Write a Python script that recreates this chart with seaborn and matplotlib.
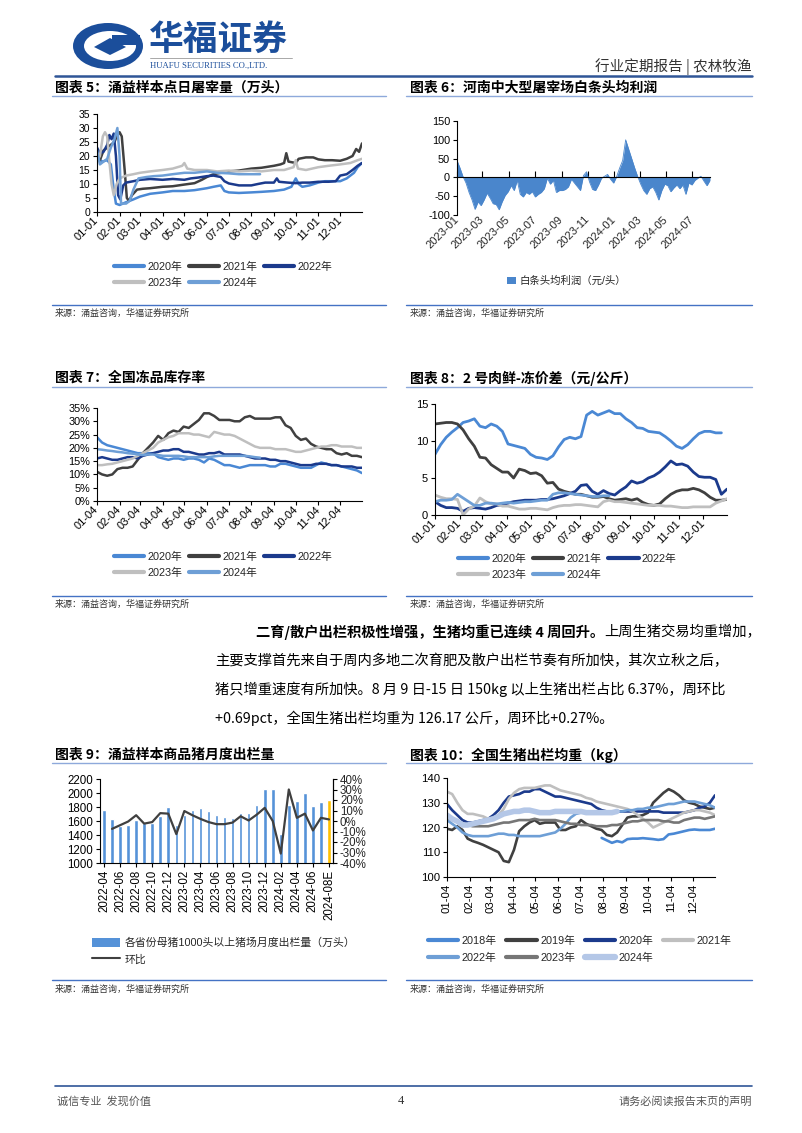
import numpy as np
import pandas as pd
import matplotlib
matplotlib.use("Agg")
import matplotlib.pyplot as plt
import seaborn as sns
from matplotlib.lines import Line2D
from matplotlib.patches import Patch, Ellipse, Polygon, Rectangle
from matplotlib.ticker import FuncFormatter

# ======================= DATA =======================
# Chart 5: daily slaughter volume (万头), sampled points (MM-DD, value)
slaughter_2020_dates = ["01-01","01-08","01-15","01-20","01-24","01-27","02-01","02-10","02-15","02-20",
                        "03-01","03-15","04-01","04-15","05-01","05-15","06-01","06-10","06-20","06-25",
                        "07-01","07-15","08-01","08-15","09-01","09-15","09-25","10-01","10-05","10-10",
                        "10-20","11-01","11-10","11-20","12-01","12-10","12-20","12-25","12-31"]
slaughter_2020 = [19.5,18,18.5,17,8,3,2.5,3.5,4,4.5, 5.5,6.5,7,7.5,7.5,7.8,8.5,9,9.5,7.5,
                  7,6.8,7,7.2,7.5,8,9,12,10,9, 9.5,10.5,11,11,11,12,14,16,17.5]
slaughter_2021_dates = ["01-01","01-05","01-10","01-15","01-20","01-25","01-28","02-01","02-04","02-08",
                        "02-11","02-14","02-18","02-25","03-05","03-15","04-01","04-15","05-01","05-15",
                        "05-25","06-01","06-10","06-20","07-01","07-15","08-01","08-15","09-01","09-10",
                        "09-15","09-18","09-21","10-01","10-05","10-15","10-25","11-01","11-10","11-20",
                        "12-01","12-10","12-18","12-23","12-27","12-31"]
slaughter_2021 = [20,18.5,22,23,24,25,27,28.5,27,15, 5,4,6,8,8.3,8.5,9,9.2,9.8,10.3,
                  11.5,12.5,13.5,14,14.5,14.8,15.5,15.8,16.5,17, 17.5,21,18,17.5,19,19.5,19.5,18.8,18.5,18.5,
                  18.3,19,20,22.5,21.5,24.5]
slaughter_2022_dates = ["01-01","01-05","01-10","01-15","01-18","01-21","01-24","01-27","01-30","02-02",
                        "02-06","02-10","02-20","03-01","03-15","04-01","04-15","05-01","05-10","05-20",
                        "06-01","06-10","06-20","06-25","07-01","07-15","08-01","08-10","08-20","09-01",
                        "09-05","09-08","09-20","10-01","10-10","10-20","11-01","11-15","11-25","12-01",
                        "12-10","12-18","12-25","12-31"]
slaughter_2022 = [23,21,21.5,24,27.5,26,28,20,6,4.5, 9.5,10.5,11,11.5,11.8,11.5,11.8,11.5,12,12.3,
                  12.8,13,12.5,11,10.2,9.5,9.5,10,10.5,10.5, 12,10.8,10.5,10.3,10.5,10.5,10.8,10.8,11,13,
                  13.5,15,16.5,17.5]
slaughter_2023_dates = ["01-01","01-05","01-09","01-12","01-15","01-18","01-21","01-24","01-28","02-01",
                        "02-10","02-20","03-01","03-15","04-01","04-15","04-28","05-01","05-05","05-15",
                        "06-01","06-15","07-01","07-15","08-01","08-15","09-01","09-15","09-28","10-01",
                        "10-04","10-15","11-01","11-15","12-01","12-15","12-25","12-31"]
slaughter_2023 = [18,20,27,28.5,27,18,10,6,10,12, 13,13.5,14,14.5,15,15.5,16.5,17.5,15.5,15,
                  15,14.5,14.8,14.5,14.8,14.5,15,15,16,18.5, 15.5,15,16,16.5,17,17.5,18.5,19]
slaughter_2024_dates = ["01-01","01-05","01-10","01-15","01-20","01-25","01-29","02-01","02-03","02-10",
                        "02-15","02-20","02-27","03-10","03-20","04-01","04-15","05-01","05-15","06-01",
                        "06-15","07-01","07-15","08-01","08-13"]
slaughter_2024 = [22,17,18,19,23,26,30,20,3,3, 4,8,12,12.5,12.8,13,13.5,14,14,14.5,
                  14,13.8,13.5,13.5,13.5]

# Chart 6: weekly profit per head (元/头), from 2023-01-01
profit_start = "2023-01-01"
profit = [45,25,2,-15,-40,-60,-85,-65,-75,-60, -42,-55,-70,-72,-86,-65,-48,-38,-22,-35,
          -8,-45,-52,-40,-45,-38,-52,-45,-40,-30, -2,-18,-8,-40,-35,-35,-32,-25,-5,-15,
          -25,-35,5,15,-12,-32,-35,-20,-2,3, 8,-5,-15,2,25,45,100,75,50,25,
          2,-18,-35,-45,-30,-25,-40,-60,-35,-18, -22,-38,-28,-20,-30,-20,-45,-15,-20,-8,
          -2,3,-10,-22,-8]
profit_ticks = ["2023-01","2023-03","2023-05","2023-07","2023-09","2023-11",
                "2024-01","2024-03","2024-05","2024-07"]

# Chart 7: frozen inventory rate (%), weekly from 01-04
inv_2020 = [24.0,22.0,21.0,20.5,20.0,19.5,19.0,18.5,18.0,18.0, 18.0,18.0,16.5,16.0,15.5,16.0,16.0,15.5,16.0,16.0,
            15.5,14.5,16.0,15.5,14.5,13.5,13.5,13.0,12.5,13.0, 13.5,13.5,13.5,13.5,13.0,13.0,14.0,14.0,13.5,13.0,
            12.5,12.5,12.5,13.5,14.5,14.0,13.5,13.5,13.0,12.5, 12.0,11.5,10.5]
inv_2021 = [11,10,9.5,10,12,12.5,12.5,13,15.5,18, 20,22,24.5,23,25.5,26.5,26,28,27.5,29,
            30.5,33,33,32,30.5,30.5,30.5,30,30,31.5, 32,31,31,31,31,31.5,31.5,28.5,27.5,24.5,
            23,23.5,21.5,20.5,20,19.5,19.5,18,17.5,18, 17,17,16.5]
inv_2022 = [16,16.5,16,15.5,15.5,16,16.5,16.5,16,17, 17.5,18,18.5,19,19,19.5,19.5,18.5,18.5,18,
            17.5,17.5,18,18,18.5,17.5,17.5,17.5,17.5,17, 16.5,16,16,16,15.5,15.5,15,15,14.5,14,
            13.5,13.5,13.5,14,14,14,13.5,13.5,13,13, 13,12.5,12.5]
inv_2023 = [13.5,13.5,13.8,14,14.5,15,15.5,16,17,18, 19,20,22,23,24,24.5,25.5,25.5,25.5,25,
            25,24.5,24,26,25.5,25,25,24.5,23.5,22.5, 21.5,20.5,20,20,20,19.5,19.5,19.5,19,18.5,
            18.5,19,19.5,20,20.5,20.5,21,21,20.5,20.5, 20.5,20,20]
inv_2024 = [19.5,19.3,19,18.8,18.5,18.3,18,17.8,17.5,17.3, 17.5,17.5,17.3,17,17,17,17,16.8,16.5,16.5,
            16.5,16.5,16.5,16.8,17,17,17,17,17,17, 16.8,16.5,16.3]

# Chart 8: fresh-frozen price spread (元/公斤), weekly from 01-01
spread_2020 = [8.2,9.5,10.5,11.2,11.8,12.5,12.7,13.0,12.0,11.8, 12.3,12.0,11.3,9.6,9.4,9.2,9.0,8.2,7.8,7.7,
               7.5,8.0,9.2,10.2,10.5,10.3,10.6,13.5,14.0,13.5, 13.8,14.1,13.7,13.7,13.0,12.5,11.8,11.7,11.3,11.2,
               11.1,10.6,10.0,9.3,9.0,9.5,10.3,11.0,11.3,11.3, 11.1,11.1]
spread_2021 = [12.3,12.4,12.5,12.5,12.3,11.5,10.3,9.3,7.8,7.7, 6.8,6.3,5.8,5.8,5.0,6.2,6.0,5.6,5.7,5.3,
               4.3,4.4,3.5,3.2,3.0,2.8,2.8,2.6,2.4,2.4, 2.5,2.2,2.0,2.1,2.2,2.0,2.2,1.7,1.4,1.3,
               1.5,2.2,2.8,3.2,3.4,3.4,3.6,3.4,3.0,2.4, 2.0,2.0,2.1]
spread_2022 = [1.8,1.3,1.0,1.0,0.9,0.5,0.9,1.0,0.9,0.8, 1.0,1.3,1.4,1.6,1.8,1.9,2.0,2.0,2.0,2.1,
               2.1,2.2,2.4,2.6,2.9,3.2,4.0,4.1,3.2,2.8, 3.3,2.9,2.7,3.3,3.8,4.6,4.3,4.5,5.0,5.3,
               5.8,6.5,7.3,6.8,6.9,6.6,5.8,5.2,5.1,5.1, 4.8,2.8,3.5]
spread_2023 = [2.7,2.4,2.2,2.2,2.1,0.0,0.8,1.2,2.3,1.8, 1.5,1.5,1.2,1.2,1.0,0.8,0.8,0.9,0.9,0.8,
               0.7,1.0,1.2,1.3,1.3,1.4,1.4,1.3,1.2,1.1, 1.8,2.0,1.8,1.8,1.7,1.6,1.5,1.4,1.3,1.3,
               1.3,1.2,1.2,1.1,1.0,1.0,1.1,1.1,1.1,1.1, 1.6,1.9,2.2]
spread_2024 = [1.8,2.0,2.0,2.1,2.8,2.3,1.8,1.3,1.3,1.6, 1.6,1.5,1.6,1.7,1.6,1.7,1.8,1.8,1.9,2.0,
               2.0,2.8,3.0,3.0,2.9,2.8,2.7,2.6,2.5,2.5, 2.6,2.6]

# Chart 9: monthly sales volume (万头) and MoM (%)
months9 = ["2022-04","2022-05","2022-06","2022-07","2022-08","2022-09","2022-10","2022-11","2022-12",
           "2023-01","2023-02","2023-03","2023-04","2023-05","2023-06","2023-07","2023-08","2023-09",
           "2023-10","2023-11","2023-12","2024-01","2024-02","2024-03","2024-04","2024-05","2024-06",
           "2024-07","2024-08E"]
volume9 = [1755,1630,1530,1540,1610,1570,1570,1670,1805,
           1550,1690,1760,1785,1745,1690,1660,1650,1715,
           1715,1830,2060,2055,1415,1835,1880,2000,1820,
           1870,1900]
mom9 = [-7.5,-4,-0.5,5.5,-2.5,-1,7.5,7,-12.5,9.5, 5.5,2,-1,-3,-3,-1.5,4.5,0.5,6,12.5,
        0,-31,30,3,7,-9,3,1.5]   # from 2022-05 on

# Chart 10: average slaughter weight (kg), weekly from 01-04
weight_2018 = [115.8,114.8,113.8,114.5,114.0,115.3,115.5,115.5,115.7,115.5, 115.3,115.0,115.3,117.2,117.5,118.0,
               118.5,119.0,119.2,119.0,119.0,119.0,119.5]   # starts in week 31 (08-04)
weight_2018_first_week = 30
weight_2019 = [119.5,119,120.5,119,115.5,114.5,113.8,113,112,111, 110,106.5,106,111,118.5,120.5,122,123,121.5,122,
               122,122,119,119,120,120.5,123,121.5,120.5,119.5, 119,117,116.5,118,121,124,124.5,124.5,125,126,
               130,132,134,135.5,134.5,133,131,130,129.5,128.5, 128,127.5,128]
weight_2020 = [129.5,127,125,123,122,122,122.5,123,123.5,125, 127,130,132.5,133,133.5,134.5,134.5,135.5,135.5,134.5,
               133.5,132.5,132.5,132,131.5,131,130.5,130,129.5,128, 127,126.5,126.5,126.5,126.5,126.5,126.5,126.5,126.5,126.5,
               126.5,126.5,126,126,126,126,126,126.5,127,128, 128.5,130,133]
weight_2021 = [134.5,133.5,130,127,125.5,125.5,125,124.5,123.5,124, 125,127.5,131.5,134,135.5,136,136,136,136.5,137,
               137,136,135,134.5,134,133.5,133,132,131.5,130.5, 130,129.5,129,128.5,128,127.5,126.5,125,123.5,122,
               120,121,122,123,124,125,126,126.5,127,127, 126.5,126,125]
weight_2022 = [123,121.5,120,118,117,116.5,116.5,116.5,116.5,117, 117.5,117.5,117,117,116.5,116.5,116.5,116.5,116.5,117,
               117.5,118,119.5,121.5,124,125.5,126,126,126,126, 126.5,126.5,126.5,126.5,126.5,127,127,127.5,127.5,128,
               128,128.5,129,129.5,129.5,130,130.5,130.5,130.5,130, 129.5,129,128]
weight_2023 = [124,123,122.5,121.5,121,120.5,120.5,120.5,120.5,121, 121.5,122,122,122.5,123,123,123,123.5,123,123,
               123,123,122.5,122,121.5,121.5,121,121,121,120.5, 120.5,120.5,121,121,121.5,122,122.5,122.5,123,123,
               123,123,122.5,122.5,122,122,123,123.5,124,124, 123.5,124,124.5]
weight_2024 = [125,123.5,122.5,121,121,121.5,122,122.5,123,123.5, 124.5,125.5,126,126.5,126.5,127,127,126.5,126,126,
               126,126.5,126.5,126.5,126.5,126.5,126.5,126,126,126, 126,126,126,126.5]

# ======================= STYLE =======================
sns.set_theme(style="ticks")
CJK = ['Noto Sans CJK SC', 'DejaVu Sans']
plt.rcParams['font.family'] = ['Liberation Sans', 'Noto Sans CJK SC', 'DejaVu Sans']
plt.rcParams['axes.unicode_minus'] = False

C_BLUE = "#4A88D4"
C_DARK = "#404040"
C_NAVY = "#1B3A8C"
C_LGRAY = "#BFBFBF"
C_LBLUE = "#6E9FD6"
C_GRAY = "#767676"
C_PALE = "#B4C7E7"
C_BAR = "#5592D8"
C_YEL = "#FFC000"
C_AREA = "#4A86CC"
LOGO = "#1B4E9B"

W, H = 802, 1133
fig = plt.figure(figsize=(W / 100, H / 100), dpi=100, facecolor='white')


def fx(x):
    return x / W


def fy(y):
    return 1 - y / H


def add_ax(x0, y0, x1, y1):
    return fig.add_axes([fx(x0), fy(y1), (x1 - x0) / W, (y1 - y0) / H])


def hline(x0, x1, y, color, lw):
    fig.add_artist(Line2D([fx(x0), fx(x1)], [fy(y), fy(y)], transform=fig.transFigure,
                          color=color, lw=lw))


def ftext(x, y, s, **kw):
    kw.setdefault('va', 'center')
    return fig.text(fx(x), fy(y), s, **kw)


def style_ax(ax, fs=7.5, xfs=None):
    ax.set_facecolor('white')
    for s in ['top', 'right']:
        ax.spines[s].set_visible(False)
    for s in ['left', 'bottom']:
        ax.spines[s].set_color('black')
        ax.spines[s].set_linewidth(0.8)
    ax.tick_params(labelsize=fs, length=3, width=0.8, color='black', pad=2, labelcolor='black')
    if xfs is not None:
        ax.tick_params(axis='x', labelsize=xfs)
    ax.set_xlabel('')
    ax.set_ylabel('')
    ax.grid(False)


def rowmajor(items, ncol):
    nrow = -(-len(items) // ncol)
    out = []
    for c in range(ncol):
        for r in range(nrow):
            i = r * ncol + c
            if i < len(items):
                out.append(items[i])
    return out


def year_legend(entries, x, y, ncol, fs=7.8, hl=2.8, cs=0.6, ls=0.5):
    entries = rowmajor(entries, ncol)
    handles = [Line2D([], [], color=c, lw=lw) for (lab, c, lw) in entries]
    labels = [e[0] for e in entries]
    fig.legend(handles, labels, loc='upper left', bbox_to_anchor=(fx(x), fy(y)), ncol=ncol,
               frameon=False, fontsize=fs, handlelength=hl, handletextpad=0.3, columnspacing=cs,
               labelspacing=ls, borderaxespad=0, borderpad=0)


def rot_labels(ax, angle):
    if angle == 45:
        plt.setp(ax.get_xticklabels(), rotation=45, ha='right', va='center', rotation_mode='anchor')
    else:
        plt.setp(ax.get_xticklabels(), rotation=90, ha='center', va='top')


pct = FuncFormatter(lambda v, p: f"{v:.0f}%")

# ======================= HEADER =======================
fig.add_artist(Ellipse((fx(108), fy(46)), 70 / W, 46 / H, transform=fig.transFigure, color=LOGO, lw=0))
fig.add_artist(Ellipse((fx(110), fy(46)), 52 / W, 30 / H, transform=fig.transFigure, color='white', lw=0))
fig.add_artist(Rectangle((fx(112), fy(45)), 28 / W, 10 / H, transform=fig.transFigure, color=LOGO, lw=0))
fig.add_artist(Polygon([(fx(94), fy(47)), (fx(110), fy(38)), (fx(126), fy(47)), (fx(110), fy(55))],
                       closed=True, transform=fig.transFigure, color=LOGO, lw=0))
ftext(149, 39, "华福证券", fontsize=25, color=LOGO, weight='bold', family=CJK)
hline(150, 292, 58, "#9A9A9A", 0.6)
ftext(150, 66, "HUAFU SECURITIES CO.,LTD.", fontsize=6.2, color=LOGO, family=['Liberation Serif'])
ftext(752, 67, "行业定期报告 | 农林牧渔", fontsize=10.5, color='#333333', ha='right', family=CJK)
hline(55, 752, 76, "#2F5597", 1.8)

# ======================= SECTION FRAMES =======================
titles = [
    (55, 88, "图表 5：涌益样本点日屠宰量（万头）"),
    (410, 88, "图表 6：河南中大型屠宰场白条头均利润"),
    (55, 378, "图表 7：全国冻品库存率"),
    (410, 378, "图表 8：2 号肉鲜-冻价差（元/公斤）"),
    (55, 755, "图表 9：涌益样本商品猪月度出栏量"),
    (410, 755, "图表 10：全国生猪出栏均重（kg）"),
]
for x, y, s in titles:
    ftext(x, y, s, fontsize=10, weight='bold', color='black', family=CJK)
for y in [96, 387, 763]:
    hline(52, 386, y, "#8EA9DB", 1.0)
    hline(406, 752, y, "#8EA9DB", 1.0)
for y_line, y_text in [(305, 313), (596, 604), (980, 989)]:
    hline(52, 386, y_line, "#4472C4", 1.0)
    hline(406, 752, y_line, "#4472C4", 1.0)
    ftext(55, y_text, "来源：涌益咨询，华福证券研究所", fontsize=6.5, color='#333333', family=CJK)
    ftext(410, y_text, "来源：涌益咨询，华福证券研究所", fontsize=6.5, color='#333333', family=CJK)

# ======================= CHART 5 =======================
def doy(md):
    return pd.Timestamp("2021-" + md).dayofyear - 1


ax5 = add_ax(97, 114, 362, 212)
series5 = [(slaughter_2020_dates, slaughter_2020, C_BLUE),
           (slaughter_2021_dates, slaughter_2021, C_DARK),
           (slaughter_2022_dates, slaughter_2022, C_NAVY),
           (slaughter_2023_dates, slaughter_2023, C_LGRAY),
           (slaughter_2024_dates, slaughter_2024, C_LBLUE)]
for dts, vals, col in series5:
    sns.lineplot(x=[doy(d) for d in dts], y=vals, color=col, lw=1.8, ax=ax5)
ax5.set_xlim(0, 364)
ax5.set_ylim(0, 35)
ax5.set_yticks(range(0, 36, 5))
m5 = [f"{m:02d}-01" for m in range(1, 13)]
ax5.set_xticks([doy(m) for m in m5], labels=m5)
style_ax(ax5, fs=7.5, xfs=8)
rot_labels(ax5, 45)
year_legend([("2020年", C_BLUE, 3), ("2021年", C_DARK, 3), ("2022年", C_NAVY, 3),
             ("2023年", C_LGRAY, 3), ("2024年", C_LBLUE, 3)], 114, 262, 3)

# ======================= CHART 6 =======================
ax6 = add_ax(457, 121, 710, 215)
p_start = pd.Timestamp(profit_start)
p_dates = pd.date_range(p_start, periods=len(profit), freq='7D')
x6 = np.asarray((p_dates - p_start).days, dtype=float)
ax6.fill_between(x6, profit, 0, color=C_AREA, lw=0)
sns.lineplot(x=x6, y=profit, color=C_AREA, lw=0.6, ax=ax6)
ax6.set_xlim(0, x6[-1])
ax6.set_ylim(-100, 150)
ax6.set_yticks(range(-100, 151, 50))
tick6 = [(pd.Timestamp(t + "-01") - p_start).days for t in profit_ticks]
style_ax(ax6, fs=7.8)
ax6.spines['bottom'].set_position(('data', 0))
ax6.set_xticks(tick6)
ax6.tick_params(axis='x', labelbottom=False, direction='in', length=4)
sec6 = ax6.secondary_xaxis(0)
sec6.set_xticks(tick6, labels=profit_ticks)
sec6.tick_params(length=0, labelsize=8, pad=2)
sec6.spines['bottom'].set_visible(False)
plt.setp(sec6.get_xticklabels(), rotation=45, ha='right', va='center', rotation_mode='anchor',
         family=['Liberation Sans'])
fig.legend([Patch(facecolor=C_AREA, edgecolor='none')], ["白条头均利润（元/头）"], loc='center',
           bbox_to_anchor=(fx(567), fy(281)), frameon=False, fontsize=7.5, handlelength=0.8,
           handleheight=0.8, handletextpad=0.4, borderaxespad=0, borderpad=0)

# ======================= CHART 7 =======================
base = pd.Timestamp("2021-01-01")
w4 = pd.date_range("2021-01-04", periods=53, freq='7D')
x7 = np.asarray((w4 - base).days, dtype=float)
ax7 = add_ax(97, 408, 362, 501)
for vals, col in [(inv_2020, C_BLUE), (inv_2021, C_DARK), (inv_2022, C_NAVY),
                  (inv_2023, C_LGRAY), (inv_2024, C_LBLUE)]:
    sns.lineplot(x=x7[:len(vals)], y=vals, color=col, lw=1.8, ax=ax7)
ax7.set_xlim(x7[0], x7[-1])
ax7.set_ylim(0, 35)
ax7.set_yticks(range(0, 36, 5))
ax7.yaxis.set_major_formatter(pct)
m7 = [f"{m:02d}-04" for m in range(1, 13)]
ax7.set_xticks([(pd.Timestamp("2021-" + m) - base).days for m in m7], labels=m7)
style_ax(ax7, fs=7.8, xfs=8)
rot_labels(ax7, 45)
year_legend([("2020年", C_BLUE, 3), ("2021年", C_DARK, 3), ("2022年", C_NAVY, 3),
             ("2023年", C_LGRAY, 3), ("2024年", C_LBLUE, 3)], 114, 552, 3)

# ======================= CHART 8 =======================
w1 = pd.date_range("2021-01-01", periods=53, freq='7D')
x8 = np.asarray((w1 - base).days, dtype=float)
ax8 = add_ax(435, 404, 727, 515)
for vals, col in [(spread_2020, C_BLUE), (spread_2021, C_DARK), (spread_2022, C_NAVY),
                  (spread_2023, C_LGRAY), (spread_2024, C_LBLUE)]:
    sns.lineplot(x=x8[:len(vals)], y=vals, color=col, lw=2.0, ax=ax8)
ax8.set_xlim(x8[0], x8[-1])
ax8.set_ylim(0, 15)
ax8.set_yticks([0, 5, 10, 15])
m8 = [f"{m:02d}-01" for m in range(1, 13)]
ax8.set_xticks([(pd.Timestamp("2021-" + m) - base).days for m in m8], labels=m8)
style_ax(ax8, fs=8, xfs=8)
rot_labels(ax8, 45)
year_legend([("2020年", C_BLUE, 3), ("2021年", C_DARK, 3), ("2022年", C_NAVY, 3),
             ("2023年", C_LGRAY, 3), ("2024年", C_LBLUE, 3)], 458, 554, 3)

# ======================= PARAGRAPH =======================
renderer = fig.canvas.get_renderer()
PFS = 10.3
t_bold = ftext(256, 632, "二育/散户出栏积极性增强，生猪均重已连续 4 周回升。", fontsize=PFS,
               weight='bold', family=CJK, color='black')
bb = t_bold.get_window_extent(renderer)
fig.text(bb.x1 / fig.bbox.width, fy(632), "上周生猪交易均重增加，", fontsize=PFS, family=CJK,
         color='black', va='center')
para = ["主要支撑首先来自于周内多地二次育肥及散户出栏节奏有所加快，其次立秋之后，",
        "猪只增重速度有所加快。8 月 9 日-15 日 150kg 以上生猪出栏占比 6.37%，周环比",
        "+0.69pct，全国生猪出栏均重为 126.17 公斤，周环比+0.27%。"]
for i, line in enumerate(para):
    ftext(215, 661 + 28.7 * i, line, fontsize=PFS, family=CJK, color='black')

# ======================= CHART 9 =======================
ax9 = add_ax(100, 779, 333, 863)
df9 = pd.DataFrame({"month": months9, "volume": volume9})
pal9 = {m: C_BAR for m in months9}
pal9[months9[-1]] = C_YEL
sns.barplot(data=df9, x="month", y="volume", hue="month", palette=pal9, legend=False,
            width=0.45, saturation=1, ax=ax9)
ax9.set_ylim(1000, 2200)
ax9.set_yticks(range(1000, 2201, 200))
ax9.set_xlim(-0.5, len(months9) - 0.5)
ax9.set_xticks(range(0, len(months9), 2), labels=months9[::2])
style_ax(ax9, fs=8.3)
ax9.spines['right'].set_visible(True)
ax9.spines['right'].set_color('black')
ax9.spines['right'].set_linewidth(0.8)
rot_labels(ax9, 90)
ax9b = ax9.twinx()
sns.lineplot(x=np.arange(1, len(months9)), y=mom9, color=C_DARK, lw=1.6, ax=ax9b)
ax9b.set_ylim(-40, 40)
ax9b.set_yticks(range(-40, 41, 10))
ax9b.yaxis.set_major_formatter(pct)
ax9b.set_xlim(-0.5, len(months9) - 0.5)
for s in ['top', 'left', 'bottom']:
    ax9b.spines[s].set_visible(False)
ax9b.spines['right'].set_color('black')
ax9b.spines['right'].set_linewidth(0.8)
ax9b.tick_params(labelsize=8.3, length=3, width=0.8, color='black', pad=2)
ax9b.set_ylabel('')
fig.legend([Patch(facecolor=C_BAR, edgecolor='none'), Line2D([], [], color=C_DARK, lw=1.5)],
           ["各省份母猪1000头以上猪场月度出栏量（万头）", "环比"], loc='upper left',
           bbox_to_anchor=(fx(92), fy(938)), frameon=False, fontsize=7.8, handlelength=2.6,
           handleheight=0.9, handletextpad=0.4, labelspacing=0.55, borderaxespad=0, borderpad=0)

# ======================= CHART 10 =======================
ax10 = add_ax(447, 778, 715, 877)
series10 = [(x7[weight_2018_first_week:weight_2018_first_week + len(weight_2018)], weight_2018, C_BLUE, 1.9),
            (x7, weight_2019, C_DARK, 1.9),
            (x7, weight_2020, C_NAVY, 1.9),
            (x7, weight_2021, C_LGRAY, 1.9),
            (x7, weight_2022, C_LBLUE, 1.9),
            (x7, weight_2023, C_GRAY, 1.9),
            (x7[:len(weight_2024)], weight_2024, C_PALE, 4.0)]
for xs, vals, col, lw in series10:
    sns.lineplot(x=xs, y=vals, color=col, lw=lw, ax=ax10)
ax10.set_xlim(x7[0], x7[-1])
ax10.set_ylim(100, 140)
ax10.set_yticks(range(100, 141, 10))
ax10.set_xticks([(pd.Timestamp("2021-" + m) - base).days for m in m7], labels=m7)
style_ax(ax10, fs=8.2)
rot_labels(ax10, 90)
year_legend([("2018年", C_BLUE, 3), ("2019年", C_DARK, 3), ("2020年", C_NAVY, 3), ("2021年", C_LGRAY, 3),
             ("2022年", C_LBLUE, 3), ("2023年", C_GRAY, 3), ("2024年", C_PALE, 4.5)], 428, 936, 4,
            cs=0.9, ls=0.6)

# ======================= FOOTER =======================
hline(55, 752, 1086, "#2F5597", 1.2)
ftext(57, 1101, "诚信专业  发现价值", fontsize=8, color='#555555', family=CJK)
ftext(401, 1101, "4", fontsize=9, color='#333333', ha='center', family=['Liberation Serif'])
ftext(752, 1101, "请务必阅读报告末页的声明", fontsize=8, color='#555555', ha='right', family=CJK)

fig.savefig("out.png", dpi=100, facecolor='white')
